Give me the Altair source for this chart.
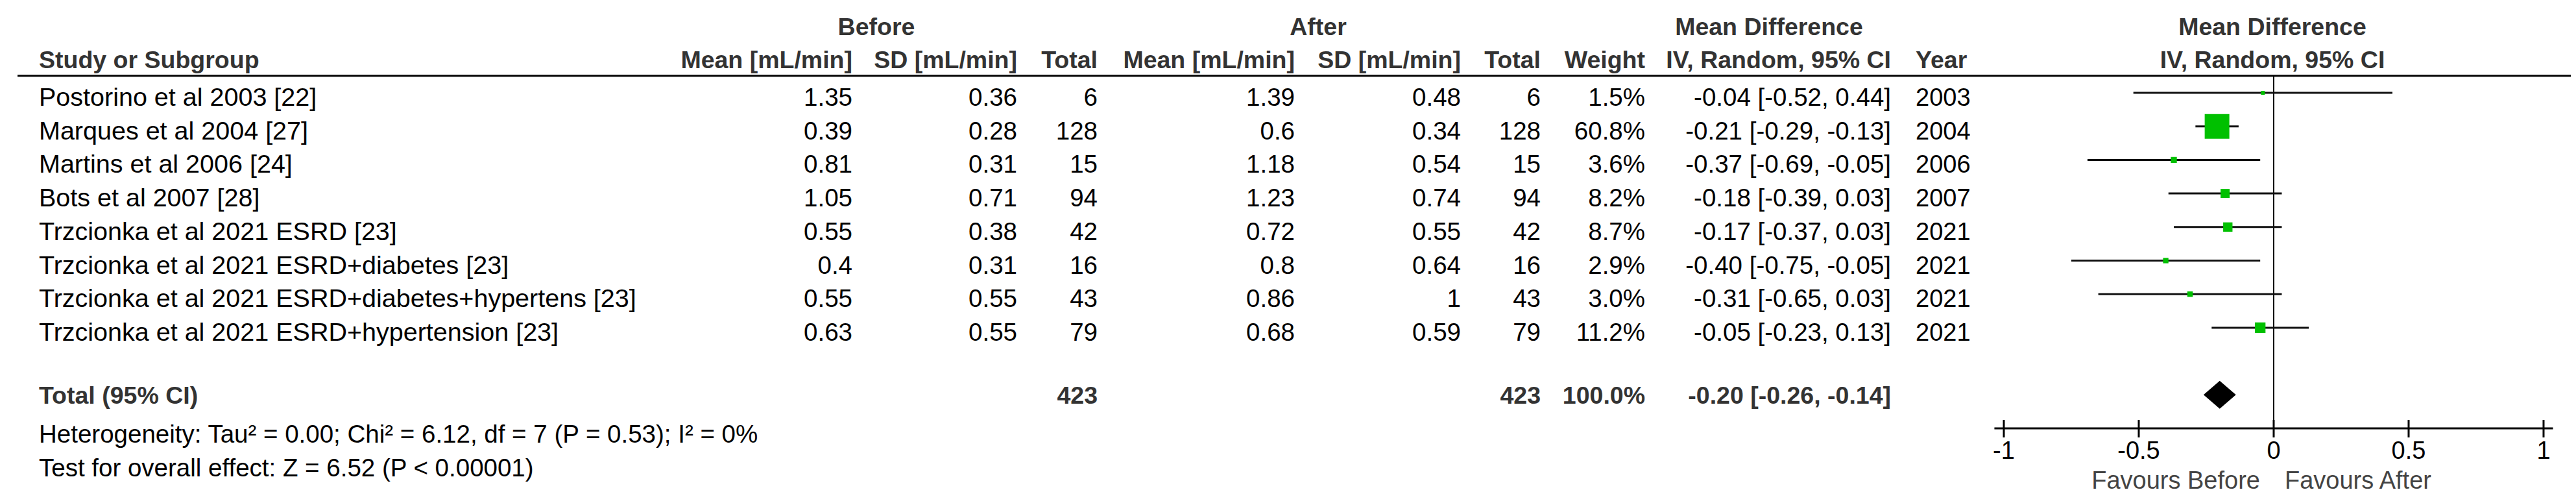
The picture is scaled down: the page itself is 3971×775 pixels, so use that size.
import altair as alt
import pandas as pd

# ---------------- data ----------------
studies = [
    "Postorino et al 2003 [22]",
    "Marques et al 2004 [27]",
    "Martins et al 2006 [24]",
    "Bots et al 2007 [28]",
    "Trzcionka et al 2021 ESRD [23]",
    "Trzcionka et al 2021 ESRD+diabetes [23]",
    "Trzcionka et al 2021 ESRD+diabetes+hypertens [23]",
    "Trzcionka et al 2021 ESRD+hypertension [23]",
]
years = [2003, 2004, 2006, 2007, 2021, 2021, 2021, 2021]
before_mean = [1.35, 0.39, 0.81, 1.05, 0.55, 0.4, 0.55, 0.63]
before_sd = [0.36, 0.28, 0.31, 0.71, 0.38, 0.31, 0.55, 0.55]
before_n = [6, 128, 15, 94, 42, 16, 43, 79]
after_mean = [1.39, 0.6, 1.18, 1.23, 0.72, 0.8, 0.86, 0.68]
after_sd = [0.48, 0.34, 0.54, 0.74, 0.55, 0.64, 1, 0.59]
after_n = [6, 128, 15, 94, 42, 16, 43, 79]
weights = [1.5, 60.8, 3.6, 8.2, 8.7, 2.9, 3.0, 11.2]
md = [-0.04, -0.21, -0.37, -0.18, -0.17, -0.40, -0.31, -0.05]
ci_lo = [-0.52, -0.29, -0.69, -0.39, -0.37, -0.75, -0.65, -0.23]
ci_hi = [0.44, -0.13, -0.05, 0.03, 0.03, -0.05, 0.03, 0.13]

total_label = "Total (95% CI)"
total_before_n = 423
total_after_n = 423
total_weight = 100.0
total_md = -0.20
total_lo = -0.26
total_hi = -0.14

het_text = "Heterogeneity: Tau\u00b2 = 0.00; Chi\u00b2 = 6.12, df = 7 (P = 0.53); I\u00b2 = 0%"
test_text = "Test for overall effect: Z = 6.52 (P < 0.00001)"

tick_values = [-1, -0.5, 0, 0.5, 1]
tick_labels = ["-1", "-0.5", "0", "0.5", "1"]
favours_left = "Favours Before"
favours_right = "Favours After"

# ---------------- layout ----------------
W, H = 3955, 752
FONT = "Liberation Sans"
FS_BOLD = 37.5
FS_NAME = 39.5
FS_NUM = 38.5
FS_YEAR = 38
FS_AX = 38
rows = list(range(1, len(studies) + 1))
TOTAL_ROW = 10
AXIS_ROW = 11
HEADER_ROW = 0
GROUP_ROW = -1
HLINE_ROW = 0.49

YS = alt.Scale(domain=[-1.6112, 12.934], reverse=True, nice=False, zero=False)
XS = alt.Scale(domain=[-8.4063, 1.1010], nice=False, zero=False)


def fmt(v):
    return f"{v:g}"


def txt(labels, rws, xpx, align, dy, bold=False, color="#000000", size=None):
    if size is None:
        size = FS_BOLD if bold else FS_NUM
    df = pd.DataFrame({"label": labels, "row": rws})
    return alt.Chart(df).mark_text(
        align=align, baseline="alphabetic", dy=dy, font=FONT, fontSize=size,
        fontWeight="bold" if bold else "normal", color=color
    ).encode(
        x=alt.value(xpx),
        y=alt.Y("row:Q", scale=YS, axis=None),
        text="label:N",
    )


layers = []
HC = "#333333"
# group header row
layers.append(txt(["Before"], [GROUP_ROW], 1343, "center", 14, True, HC))
layers.append(txt(["After"], [GROUP_ROW], 2024, "center", 14, True, HC))
layers.append(txt(["Mean Difference"], [GROUP_ROW], 2719, "center", 14, True, HC))
layers.append(txt(["Mean Difference"], [GROUP_ROW], 3495, "center", 14, True, HC))
# column header row
layers.append(txt(["Study or Subgroup"], [HEADER_ROW], 52, "left", 14, True, HC))
layers.append(txt(["Mean [mL/min]"], [HEADER_ROW], 1306, "right", 14, True, HC))
layers.append(txt(["SD [mL/min]"], [HEADER_ROW], 1560, "right", 14, True, HC))
layers.append(txt(["Total"], [HEADER_ROW], 1684, "right", 14, True, HC))
layers.append(txt(["Mean [mL/min]"], [HEADER_ROW], 1988, "right", 14, True, HC))
layers.append(txt(["SD [mL/min]"], [HEADER_ROW], 2244, "right", 14, True, HC))
layers.append(txt(["Total"], [HEADER_ROW], 2367, "right", 14, True, HC))
layers.append(txt(["Weight"], [HEADER_ROW], 2528, "right", 14, True, HC))
layers.append(txt(["IV, Random, 95% CI"], [HEADER_ROW], 2907, "right", 14, True, HC))
layers.append(txt(["Year"], [HEADER_ROW], 2945, "left", 14, True, HC))
layers.append(txt(["IV, Random, 95% CI"], [HEADER_ROW], 3495, "center", 14, True, HC))

# header rule
layers.append(
    alt.Chart(pd.DataFrame({"row": [HLINE_ROW]})).mark_rule(strokeWidth=3, color="#000000").encode(
        x=alt.value(19), x2=alt.value(W), y=alt.Y("row:Q", scale=YS, axis=None)
    )
)

# study rows
ci_text = [f"{m:.2f} [{l:.2f}, {h:.2f}]" for m, l, h in zip(md, ci_lo, ci_hi)]
layers.append(txt(studies, rows, 52, "left", 20, size=FS_NAME))
layers.append(txt([fmt(v) for v in before_mean], rows, 1306, "right", 20))
layers.append(txt([fmt(v) for v in before_sd], rows, 1560, "right", 20))
layers.append(txt([str(v) for v in before_n], rows, 1684, "right", 20))
layers.append(txt([fmt(v) for v in after_mean], rows, 1988, "right", 20))
layers.append(txt([fmt(v) for v in after_sd], rows, 2244, "right", 20))
layers.append(txt([str(v) for v in after_n], rows, 2367, "right", 20))
layers.append(txt([f"{w:.1f}%" for w in weights], rows, 2528, "right", 20))
layers.append(txt(ci_text, rows, 2907, "right", 20))
layers.append(txt([str(y) for y in years], rows, 2945, "left", 20, size=FS_YEAR))

# total row
layers.append(txt([total_label], [TOTAL_ROW], 52, "left", 14, True, HC))
layers.append(txt([str(total_before_n)], [TOTAL_ROW], 1684, "right", 14, True, HC))
layers.append(txt([str(total_after_n)], [TOTAL_ROW], 2367, "right", 14, True, HC))
layers.append(txt([f"{total_weight:.1f}%"], [TOTAL_ROW], 2528, "right", 14, True, HC))
layers.append(txt([f"{total_md:.2f} [{total_lo:.2f}, {total_hi:.2f}]"], [TOTAL_ROW], 2907, "right", 14, True, HC))

# heterogeneity / overall effect
layers.append(txt([het_text, test_text], [AXIS_ROW, AXIS_ROW + 1], 52, "left", 22, size=FS_NUM))

# ---------------- forest plot ----------------
forest = pd.DataFrame({"row": rows, "md": md, "lo": ci_lo, "hi": ci_hi, "weight": weights})

# zero line
layers.append(
    alt.Chart(pd.DataFrame({"x": [0], "y1": [HLINE_ROW], "y2": [AXIS_ROW]})).mark_rule(
        strokeWidth=2, color="#000000"
    ).encode(
        x=alt.X("x:Q", scale=XS, axis=None),
        y=alt.Y("y1:Q", scale=YS, axis=None),
        y2="y2:Q",
    )
)

# CI lines
layers.append(
    alt.Chart(forest).mark_rule(strokeWidth=3, color="#111111").encode(
        x=alt.X("lo:Q", scale=XS, axis=None),
        x2="hi:Q",
        y=alt.Y("row:Q", scale=YS, axis=None),
    )
)

# squares
layers.append(
    alt.Chart(forest).mark_square(filled=True, color="#00C000", opacity=1).encode(
        x=alt.X("md:Q", scale=XS, axis=None),
        y=alt.Y("row:Q", scale=YS, axis=None),
        size=alt.Size("weight:Q", scale=alt.Scale(domain=[0, 60.8], range=[0, 1444]), legend=None),
    )
)

# diamond
half = 0.416
diamond = pd.DataFrame({
    "x": [total_lo, total_md, total_hi],
    "top": [TOTAL_ROW, TOTAL_ROW - half, TOTAL_ROW],
    "bot": [TOTAL_ROW, TOTAL_ROW + half, TOTAL_ROW],
})
layers.append(
    alt.Chart(diamond).mark_area(color="#000000", orient="vertical", interpolate="linear").encode(
        x=alt.X("x:Q", scale=XS, axis=None),
        y=alt.Y("top:Q", scale=YS, axis=None),
        y2="bot:Q",
    )
)

# axis line
layers.append(
    alt.Chart(pd.DataFrame({"a": [tick_values[0] - 0.035], "b": [tick_values[-1] + 0.035], "row": [AXIS_ROW]}))
    .mark_rule(strokeWidth=3, color="#000000")
    .encode(x=alt.X("a:Q", scale=XS, axis=None), x2="b:Q", y=alt.Y("row:Q", scale=YS, axis=None))
)
# ticks
ticks = pd.DataFrame({"v": tick_values, "label": tick_labels, "y1": [AXIS_ROW - 0.25] * 5, "y2": [AXIS_ROW + 0.27] * 5, "row": [AXIS_ROW] * 5})
layers.append(
    alt.Chart(ticks).mark_rule(strokeWidth=3, color="#000000").encode(
        x=alt.X("v:Q", scale=XS, axis=None),
        y=alt.Y("y1:Q", scale=YS, axis=None),
        y2="y2:Q",
    )
)
layers.append(
    alt.Chart(ticks).mark_text(align="center", baseline="alphabetic", dy=47, font=FONT, fontSize=FS_AX, color="#000000").encode(
        x=alt.X("v:Q", scale=XS, axis=None),
        y=alt.Y("row:Q", scale=YS, axis=None),
        text="label:N",
    )
)
# favours labels
fav = pd.DataFrame({"x": [0], "row": [AXIS_ROW]})
layers.append(
    alt.Chart(fav).mark_text(align="right", baseline="alphabetic", dx=-21, dy=93, font=FONT, fontSize=FS_AX, color="#444444").encode(
        x=alt.X("x:Q", scale=XS, axis=None), y=alt.Y("row:Q", scale=YS, axis=None), text=alt.value(favours_left)
    )
)
layers.append(
    alt.Chart(fav).mark_text(align="left", baseline="alphabetic", dx=17, dy=93, font=FONT, fontSize=FS_AX, color="#444444").encode(
        x=alt.X("x:Q", scale=XS, axis=None), y=alt.Y("row:Q", scale=YS, axis=None), text=alt.value(favours_right)
    )
)

chart = alt.layer(*layers).properties(
    width=W, height=H, padding=0, autosize=alt.AutoSizeParams(type="none"), background="white"
).configure_view(stroke=None)

chart.save("out.html", embed_options={"renderer": "svg", "actions": False})
